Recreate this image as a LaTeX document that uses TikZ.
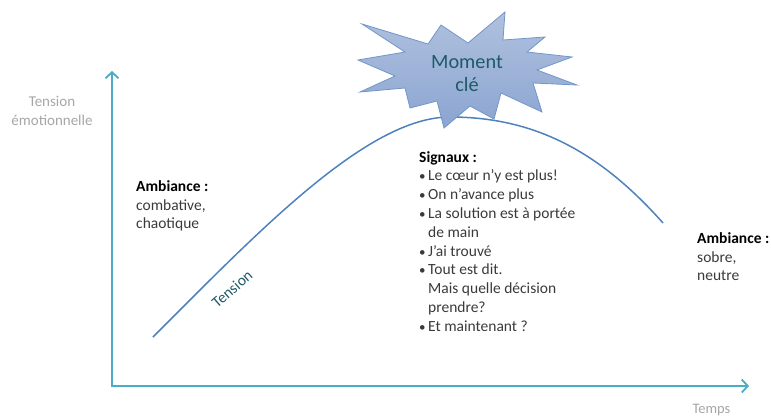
\documentclass[tikz,border=0pt]{standalone}
\usepackage{fontspec}
\setmainfont{Carlito}
\usetikzlibrary{arrows.meta}
\definecolor{axisc}{HTML}{4BACC6}
\definecolor{curvec}{HTML}{4F81BD}
\definecolor{bodyc}{HTML}{3A3A3A}
\definecolor{labelc}{HTML}{A6A6A6}
\definecolor{tealc}{HTML}{1F5A68}
\definecolor{startop}{HTML}{B0C1DE}
\definecolor{starbot}{HTML}{8BA5D1}
\definecolor{starline}{HTML}{7396CA}
\begin{document}
\begin{tikzpicture}[x=1pt,y=-1pt,
  axisline/.style={draw=axisc, line width=1.8pt,
    {Straight Barb[length=6pt,width=13pt,line width=1.8pt]}-{Straight Barb[length=6pt,width=13pt,line width=1.8pt]}},
  curveline/.style={draw=curvec, line width=1.5pt},
  body/.style={inner sep=0pt, anchor=base west, text=bodyc, font=\fontsize{15.5}{18.8}\selectfont},
  head/.style={body, text=black, font=\fontsize{15.5}{18.8}\selectfont\bfseries},
  axlabel/.style={inner sep=0pt, anchor=base, text=labelc, font=\fontsize{15}{18}\selectfont},
  startext/.style={inner sep=0pt, anchor=base, text=tealc, font=\fontsize{20.3}{23}\selectfont},
  bul/.style={inner sep=0pt, anchor=base west, text=bodyc, font=\fontsize{13}{18}\selectfont}
]
\useasboundingbox (0,0) rectangle (771,417);

% axes
\coordinate (ytop) at (112,71);
\coordinate (orig) at (112,386);
\coordinate (xend) at (749,386);
\draw[axisline] (ytop) -- (orig) -- (xend);

\node[axlabel] (yl1) at (52,107) {Tension};
\node[axlabel] (yl2) at (52,126) {émotionnelle};
\node[axlabel, font=\fontsize{14.5}{17}\selectfont] (xl) at (711.5,413) {Temps};

% curve
\coordinate (c0) at (153,337);
\coordinate (cpk) at (450,117);
\coordinate (c1) at (663,223);
\draw[curveline] (c0) .. controls (260,230) and (368,117) .. (cpk)
  .. controls (535,117) and (600,152) .. (c1);

\node[inner sep=0pt, text=tealc, font=\fontsize{15.5}{18}\selectfont, rotate=41] (tens) at (232,289) {Tension};

% star
\shade[top color=startop, bottom color=starbot, draw=starline, line width=0.8pt]
  (362,24) -- (428,44) -- (441,25) -- (468,43) -- (505,12) -- (503,40)
  -- (545,37) -- (527,52) -- (572,57) -- (537,70) -- (577,85) -- (533,83)
  -- (542,112) -- (501,93) -- (494,119) -- (470,106) -- (444,128) -- (437,101)
  -- (410,108) -- (405,88) -- (360,92) -- (395,76) -- (358,60) -- (405,52) -- cycle;
\node[startext] (m1) at (467,69) {Moment};
\node[startext] (m2) at (467,92) {clé};

% left block
\node[head] (la) at (136,191) {Ambiance :};
\node[body] (lb) at (136,210) {combative,};
\node[body] (lc) at (136,228) {chaotique};

% right block
\node[head] (ra) at (697,243) {Ambiance :};
\node[body] (rb) at (697,262) {sobre,};
\node[body] (rc) at (697,280) {neutre};

% signaux
\node[head] (s0) at (419,162) {Signaux :};
\node[bul] (b1) at (419,180.8) {•};
\node[body] (s1) at (428,180.8) {Le cœur n’y est plus!};
\node[bul] (b2) at (419,199.6) {•};
\node[body] (s2) at (428,199.6) {On n’avance plus};
\node[bul] (b3) at (419,218.4) {•};
\node[body] (s3) at (428,218.4) {La solution est à portée};
\node[body] (s4) at (428,237.2) {de main};
\node[bul] (b5) at (419,256) {•};
\node[body] (s5) at (428,256) {J’ai trouvé};
\node[bul] (b6) at (419,274.8) {•};
\node[body] (s6) at (428,274.8) {Tout est dit.};
\node[body] (s7) at (428,293.6) {Mais quelle décision};
\node[body] (s8) at (428,312.4) {prendre?};
\node[bul] (b9) at (419,331.2) {•};
\node[body] (s9) at (428,331.2) {Et maintenant ?};
\end{tikzpicture}
\end{document}
